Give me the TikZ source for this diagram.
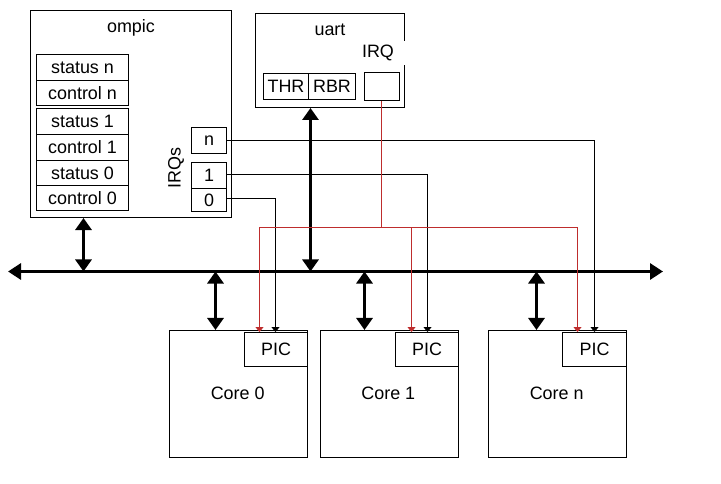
\documentclass[tikz,border=0pt]{standalone}
\usepackage{fontspec}
\setmainfont{Liberation Sans}
\usetikzlibrary{arrows.meta}
\definecolor{irqred}{RGB}{190,45,45}
\begin{document}
\begin{tikzpicture}[x=1bp,y=-1bp,
  every node/.style={font=\fontsize{18}{21}\selectfont},
  box/.style={draw,line width=1bp,inner sep=0pt,rectangle},
  lbl/.style={inner sep=0pt},
  bus/.style={line width=3bp,{Triangle[length=13bp,width=16bp]}-{Triangle[length=13bp,width=16bp]}},
  busarrow/.style={line width=3bp,{Triangle[length=12bp,width=16bp]}-{Triangle[length=12bp,width=16bp]}},
  irqline/.style={line width=1bp,-{Triangle[length=5bp,width=8bp]}},
  redline/.style={line width=1bp,draw=irqred,-{Triangle[length=5bp,width=8bp]}}]
\useasboundingbox (0,0) rectangle (721,484);
% ompic
\node[box,minimum width=201bp,minimum height=207bp] (ompic) at (131,114) {};
\node[lbl] (ompict) at (131,28) {ompic};
\node[box,minimum width=92bp,minimum height=26bp] (sn) at (82.5,67.5) {status n};
\node[box,minimum width=92bp,minimum height=25bp] (cn) at (82.5,93) {control n};
\node[box,minimum width=92bp,minimum height=26bp] (s1) at (82.5,121.5) {status 1};
\node[box,minimum width=92bp,minimum height=26bp] (c1) at (82.5,147.5) {control 1};
\node[box,minimum width=92bp,minimum height=25bp] (s0) at (82.5,173) {status 0};
\node[box,minimum width=92bp,minimum height=25bp] (c0) at (82.5,198) {control 0};
\node[box,minimum width=35bp,minimum height=26bp] (irqn) at (209,140.5) {n};
\node[box,minimum width=35bp,minimum height=26bp] (irq1) at (209,175.5) {1};
\node[box,minimum width=35bp,minimum height=23bp] (irq0) at (209,200) {0};
\node[lbl,rotate=90] (irqs) at (176,168) {IRQs};
% uart
\node[box,minimum width=149bp,minimum height=94bp] (uart) at (330,60.5) {};
\node[lbl] (uartt) at (330,30) {uart};
\node[lbl,fill=white,inner xsep=11.5bp,inner ysep=4bp] (uirql) at (378,53) {IRQ};
\node[box,minimum width=45bp,minimum height=26bp] (thr) at (286,86.5) {THR};
\node[box,minimum width=47bp,minimum height=26bp] (rbr) at (332,86.5) {RBR};
\node[box,minimum width=35bp,minimum height=28bp] (uirq) at (381.5,86.5) {};
% cores
\node[box,minimum width=138bp,minimum height=127bp] (core0) at (238.5,394) {};
\node[box,minimum width=138bp,minimum height=127bp] (core1) at (389.5,394) {};
\node[box,minimum width=138bp,minimum height=127bp] (coren) at (557.5,394) {};
\node[box,minimum width=63bp,minimum height=34bp] (pic0) at (276,349.5) {PIC};
\node[box,minimum width=63bp,minimum height=34bp] (pic1) at (427,349.5) {PIC};
\node[box,minimum width=64bp,minimum height=34bp] (picn) at (594.5,349.5) {PIC};
\node[lbl] (l0) at (237.7,393) {Core 0};
\node[lbl] (l1) at (388.3,393) {Core 1};
\node[lbl] (ln) at (556.7,393) {Core n};
% bus
\coordinate (busL) at (8,271.5);
\coordinate (busR) at (663,271.5);
\draw[bus] (busL) -- (busR);
\draw[busarrow] (ompic.south -| 83.5,0) -- (busL -| 83.5,0);
\draw[busarrow] (uart.south -| 310.5,0) -- (busL -| 310.5,0);
\draw[busarrow] (busL -| 215.5,0) -- (core0.north -| 215.5,0);
\draw[busarrow] (busL -| 364.5,0) -- (core1.north -| 364.5,0);
\draw[busarrow] (busL -| 536.5,0) -- (coren.north -| 536.5,0);
% IRQ lines
\draw[irqline] (irqn.east) -- (594.5,140.5) -- (picn.north -| 594.5,0);
\draw[irqline] (irq1.east |- 0,174.5) -- (427.5,174.5) -- (pic1.north -| 427.5,0);
\draw[irqline] (irq0.east |- 0,198.5) -- (275.5,198.5) -- (pic0.north -| 275.5,0);
\coordinate (rj) at (381.5,227.5);
\draw[redline] (uirq.south) -- (rj) -- (259.5,227.5) -- (pic0.north -| 259.5,0);
\draw[redline] (rj) -- (577.5,227.5) -- (picn.north -| 577.5,0);
\draw[redline] (411.5,227.5) -- (pic1.north -| 411.5,0);
\end{tikzpicture}
\end{document}
